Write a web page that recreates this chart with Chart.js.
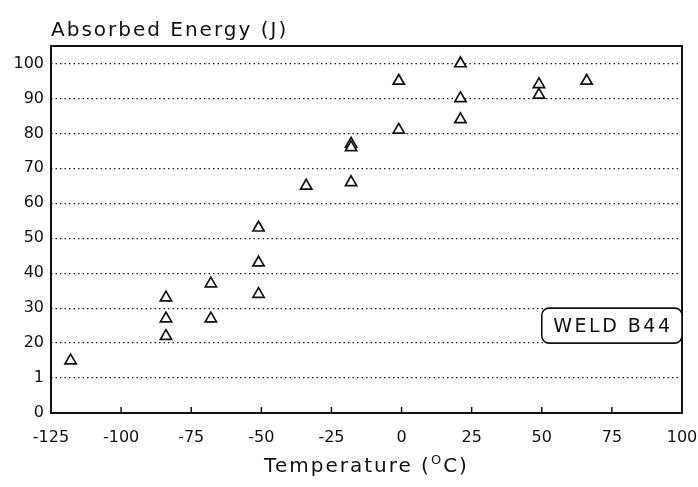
<!DOCTYPE html>
<html>
<head>
<meta charset="utf-8">
<script src="https://cdn.jsdelivr.net/npm/chart.js@4.4.1/dist/chart.umd.min.js"></script>
<style>
  html, body { margin: 0; padding: 0; background: #fff; }
  canvas { display: block; }
</style>
</head>
<body>
<canvas id="chart" width="698" height="487"></canvas>
<script>
// Charpy impact results for weld B44
const tempC = [-118, -84, -84, -84, -68, -68, -51, -51, -51, -34, -18, -18, -18, -1, -1, 21, 21, 21, 49, 49, 66];
const energyJ = [15, 33, 27, 22, 37, 27, 53, 43, 34, 65, 77, 76, 66, 95, 81, 100, 90, 84, 94, 91, 95];

const xTicks = [-125, -100, -75, -50, -25, 0, 25, 50, 75, 100];
const yTicks = [0, 10, 20, 30, 40, 50, 60, 70, 80, 90, 100];
const yTickLabels = ['0', '1', '20', '30', '40', '50', '60', '70', '80', '90', '100'];

const weldLabel = 'WELD B44';
const yTitle = 'Absorbed Energy (J)';
const xTitle = ['Temperature (', 'O', 'C)'];

const FONT = '"DejaVu Sans", sans-serif';
const INK = '#111';

// frame, inward ticks, titles and the weld tag
const decorations = {
    id: 'decorations',
    afterDatasetsDraw(chart) {
        const { ctx, chartArea: a, scales: { x, y } } = chart;
        ctx.save();
        ctx.strokeStyle = INK;
        ctx.fillStyle = INK;

        ctx.lineWidth = 2;
        ctx.strokeRect(a.left, a.top, a.right - a.left, a.bottom - a.top);

        ctx.lineWidth = 1.5;
        xTicks.slice(1, -1).forEach(v => {
            const px = x.getPixelForValue(v);
            ctx.beginPath();
            ctx.moveTo(px, a.bottom);
            ctx.lineTo(px, a.bottom - 6);
            ctx.stroke();
        });

        // weld tag box
        const bx0 = x.getPixelForValue(50), bx1 = x.getPixelForValue(100);
        const by0 = y.getPixelForValue(30), by1 = y.getPixelForValue(20);
        ctx.beginPath();
        ctx.roundRect(bx0, by0, bx1 - bx0, by1 - by0, 7);
        ctx.fillStyle = '#fff';
        ctx.fill();
        ctx.lineWidth = 1.6;
        ctx.stroke();
        ctx.fillStyle = INK;
        ctx.font = '19px ' + FONT;
        ctx.letterSpacing = '2.5px';
        ctx.textAlign = 'center';
        ctx.textBaseline = 'middle';
        ctx.fillText(weldLabel, (bx0 + bx1) / 2 + 1, (by0 + by1) / 2 + 1);

        // y title above the plot
        ctx.font = '20px ' + FONT;
        ctx.letterSpacing = '2px';
        ctx.textAlign = 'left';
        ctx.textBaseline = 'alphabetic';
        ctx.fillText(yTitle, a.left, 36);

        // x title with raised O
        const big = '20px ' + FONT, small = '13px ' + FONT;
        ctx.font = big;
        const w0 = ctx.measureText(xTitle[0]).width;
        const w2 = ctx.measureText(xTitle[2]).width;
        ctx.font = small;
        const w1 = ctx.measureText(xTitle[1]).width;
        let cx = (a.left + a.right) / 2 - (w0 + w1 + w2) / 2;
        const base = 472;
        ctx.font = big;
        ctx.fillText(xTitle[0], cx, base);
        cx += w0;
        ctx.font = small;
        ctx.fillText(xTitle[1], cx, base - 8);
        cx += w1;
        ctx.font = big;
        ctx.fillText(xTitle[2], cx, base);

        ctx.restore();
    }
};

new Chart(document.getElementById('chart'), {
    type: 'scatter',
    data: {
        datasets: [{
            data: tempC.map((t, i) => ({ x: t, y: energyJ[i] })),
            pointStyle: 'triangle',
            pointRadius: 6.5,
            pointHoverRadius: 6.5,
            borderWidth: 1.7,
            borderColor: INK,
            backgroundColor: '#fff'
        }]
    },
    options: {
        responsive: false,
        animation: false,
        events: [],
        layout: { padding: { top: 46, right: 16, left: 0, bottom: 0 } },
        plugins: {
            legend: { display: false },
            tooltip: { enabled: false }
        },
        scales: {
            x: {
                type: 'linear',
                min: -125,
                max: 100,
                afterBuildTicks: s => { s.ticks = xTicks.map(v => ({ value: v })); },
                afterFit: s => {
                    s.height = 74;
                    s.paddingLeft = 0;
                    s.paddingRight = 0;
                },
                grid: { display: false, drawTicks: false },
                border: { display: false },
                ticks: {
                    color: INK,
                    font: { family: FONT, size: 16 },
                    padding: 15,
                    maxRotation: 0,
                    autoSkip: false
                }
            },
            y: {
                min: 0,
                max: 105,
                afterBuildTicks: s => { s.ticks = yTicks.map(v => ({ value: v })); },
                afterFit: s => {
                    s.width = 51;
                    s.paddingTop = 0;
                    s.paddingBottom = 0;
                },
                grid: {
                    drawTicks: false,
                    lineWidth: 1.2,
                    color: c => (c.tick && c.tick.value === 0 ? 'rgba(0,0,0,0)' : '#222')
                },
                border: { display: false, dash: [1.5, 3] },
                ticks: {
                    color: INK,
                    font: { family: FONT, size: 16 },
                    padding: 7,
                    autoSkip: false,
                    callback: (v, i) => yTickLabels[i]
                }
            }
        }
    },
    plugins: [decorations]
});
</script>
</body>
</html>
